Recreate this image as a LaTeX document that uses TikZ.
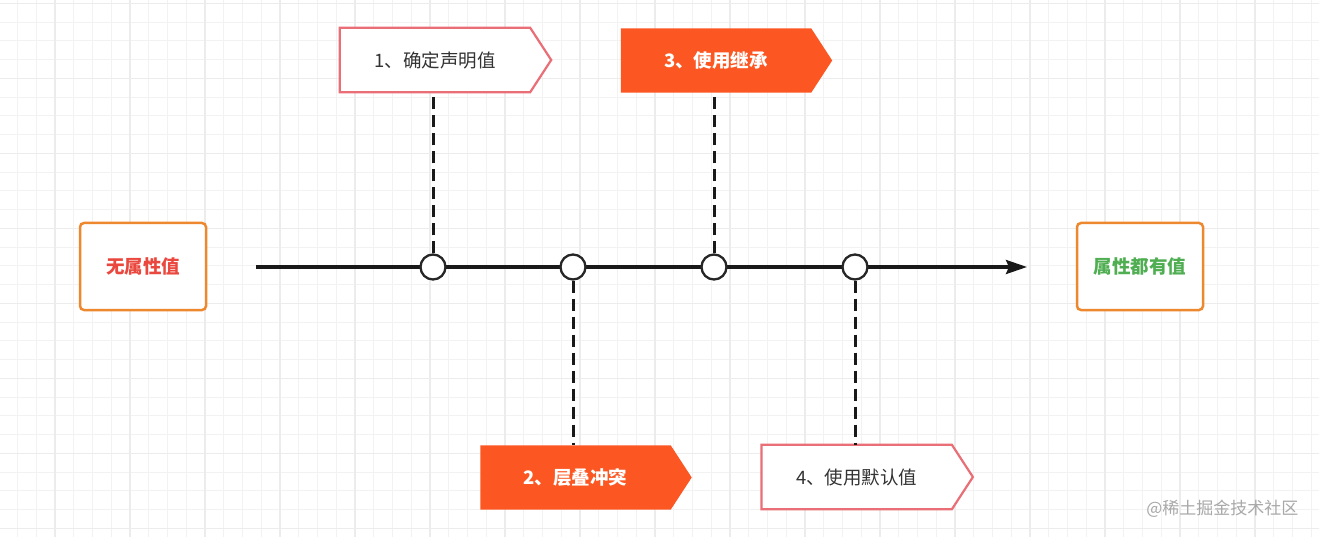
\documentclass[tikz,border=0pt]{standalone}
\usepackage{fontspec}
\setmainfont{Noto Sans CJK SC}
\usetikzlibrary{arrows.meta,backgrounds}
\definecolor{boxorange}{RGB}{238,136,46}
\definecolor{redtext}{RGB}{234,72,62}
\definecolor{greentext}{RGB}{80,174,82}
\definecolor{pinkline}{RGB}{234,110,118}
\definecolor{orangefill}{RGB}{252,87,34}
\definecolor{darktext}{RGB}{51,51,51}
\definecolor{wmark}{RGB}{168,168,168}
\definecolor{minorgrid}{RGB}{242,242,242}
\definecolor{majorgrid}{RGB}{236,236,236}
\tikzset{
  endbox/.style={draw=boxorange, line width=2.5pt, rounded corners=4pt, fill=white,
    minimum width=126pt, minimum height=87pt, font=\fontsize{18.5}{20}\selectfont\bfseries},
  stepbody/.style={minimum width=190pt, minimum height=64pt, inner sep=0pt,
    font=\fontsize{18.5}{20}\selectfont},
  lightstep/.style={stepbody, text=darktext},
  darkstep/.style={stepbody, text=white, font=\fontsize{18.5}{20}\selectfont\bfseries},
  lightshape/.style={draw=pinkline, fill=white, line width=2.2pt},
  darkshape/.style={fill=orangefill, draw=none},
  dot/.style={circle, draw=black!85, line width=2.3pt, fill=white, minimum size=25pt, inner sep=0pt},
  timeline/.style={line width=3.2pt, black!90},
  dashline/.style={line width=3pt, black!90, dash pattern=on 12pt off 6pt},
}
\newcommand{\pentagon}[2]{%
  \draw[#2] (#1.north west) -- (#1.north east) -- ([xshift=21pt]#1.east) -- (#1.south east) -- (#1.south west) -- cycle;}
\begin{document}
\begin{tikzpicture}[x=1pt,y=-1pt]
\useasboundingbox (0,0) rectangle (1319,537);
\begin{scope}[on background layer]
\fill[white] (0,0) rectangle (1319,537);
% grid
\foreach \i in {0,...,72} {\draw[minorgrid, line width=1pt] ({-20+18.75*\i},0) -- ({-20+18.75*\i},537);}
\foreach \i in {0,...,29} {\draw[minorgrid, line width=1pt] (0,{3.3+18.75*\i}) -- (1319,{3.3+18.75*\i});}
\foreach \i in {0,...,18} {\draw[majorgrid, line width=1.1pt] ({-20+75*\i},0) -- ({-20+75*\i},537);}
\foreach \i in {0,...,7} {\draw[majorgrid, line width=1.1pt] (0,{3.3+75*\i}) -- (1319,{3.3+75*\i});}
\end{scope}

% end boxes
\node[endbox, text=redtext] (start) at (143,266.5) {无属性值};
\node[endbox, text=greentext] (finish) at (1140,266.5) {属性都有值};

% step boxes
\node[lightstep] (s1) at (435,60) {1、确定声明值};
\node[darkstep] (s3) at (716,60.5) {3、使用继承};
\node[darkstep] (s2) at (575.5,477.5) {2、层叠冲突};
\node[lightstep] (s4) at (856.7,477) {4、使用默认值};
\begin{scope}[on background layer]
\pentagon{s1}{lightshape}
\pentagon{s3}{darkshape}
\pentagon{s2}{darkshape}
\pentagon{s4}{lightshape}
\end{scope}

% timeline
\coordinate (tstart) at (256,267);
\coordinate (tend) at (1027,267);
\draw[timeline, -{Stealth[length=21pt, width=14pt, inset=3pt]}] (tstart) -- (tend);

% dots
\node[dot] (c1) at (433,267) {};
\node[dot] (c2) at (573,267) {};
\node[dot] (c3) at (714,267) {};
\node[dot] (c4) at (855,267) {};

% dashed connectors
\draw[dashline] (c1.north) -- (c1 |- s1.south);
\draw[dashline] (c3.north) -- (c3 |- s3.south);
\draw[dashline] (c2.south) -- (c2 |- s2.north);
\draw[dashline] (c4.south) -- (c4 |- s4.north);

% watermark
\node[text=wmark, font=\fontsize{17}{19}\selectfont, anchor=east] (wm) at (1302,509) {@稀土掘金技术社区};
\end{tikzpicture}
\end{document}
